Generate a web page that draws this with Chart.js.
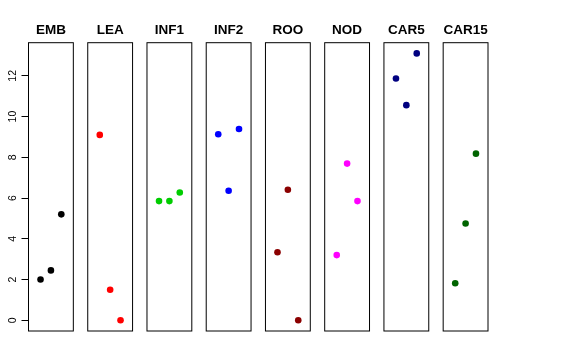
<!DOCTYPE html>
<html>
<head>
<meta charset="utf-8">
<script src="https://cdn.jsdelivr.net/npm/chart.js@4/dist/chart.umd.min.js"></script>
<style>
  html, body { margin: 0; padding: 0; background: #ffffff; }
  #c { display: block; }
</style>
</head>
<body>
<canvas id="c" width="576" height="360"></canvas>
<script>
// ---- data ----
const categories = ['EMB', 'LEA', 'INF1', 'INF2', 'ROO', 'NOD', 'CAR5', 'CAR15'];
const emb   = [2.0, 2.45, 5.2];
const lea   = [9.1, 1.5, 0];
const inf1  = [5.85, 5.85, 6.27];
const inf2  = [9.13, 6.36, 9.39];
const roo   = [3.34, 6.41, 0];
const nod   = [3.2, 7.69, 5.85];
const car5  = [11.87, 10.56, 13.1];
const car15 = [1.82, 4.75, 8.18];
const yTickLabels = [0, 2, 4, 6, 8, 10, 12];
const colors = ['#000000', '#FF0000', '#00CD00', '#0000FF', '#8B0000', '#FF00FF', '#000080', '#006400'];

const seriesList = [emb, lea, inf1, inf2, roo, nod, car5, car15];

// panel geometry in x-units (each panel: local x 1..3, limits 0..4 with 4% extension)
const panelLo = -0.16, panelHi = 4.16;
const panelW = panelHi - panelLo;
const panelGap = 1.389;
const pitch = panelW + panelGap;
const xMax = (categories.length - 1) * pitch + panelW;
const yMin = -0.524, yMax = 13.624;

const datasets = seriesList.map((vals, i) => ({
  label: categories[i],
  data: vals.map((v, j) => ({ x: i * pitch + (j + 1) - panelLo, y: v })),
  backgroundColor: colors[i],
  borderColor: colors[i],
  borderWidth: 0,
  pointRadius: 3.3,
  pointHoverRadius: 3.3
}));

const panelsPlugin = {
  id: 'panels',
  beforeDatasetsDraw(chart) {
    const { ctx, chartArea, scales } = chart;
    const xs = scales.x, ys = scales.y;
    ctx.save();
    ctx.strokeStyle = '#000000';
    ctx.lineWidth = 1;
    categories.forEach((name, i) => {
      const l = xs.getPixelForValue(i * pitch);
      const r = xs.getPixelForValue(i * pitch + panelW);
      ctx.strokeRect(l, chartArea.top, r - l, chartArea.bottom - chartArea.top);
      ctx.fillStyle = '#000000';
      ctx.font = 'bold 13.5px "Liberation Sans", Arial, sans-serif';
      ctx.textAlign = 'center';
      ctx.textBaseline = 'alphabetic';
      ctx.fillText(name, (l + r) / 2, 34);
    });
    // y axis line from first to last tick
    const ax = xs.getPixelForValue(0);
    ctx.beginPath();
    ctx.moveTo(ax, ys.getPixelForValue(yTickLabels[0]));
    ctx.lineTo(ax, ys.getPixelForValue(yTickLabels[yTickLabels.length - 1]));
    ctx.stroke();
    ctx.restore();
  }
};

new Chart(document.getElementById('c'), {
  type: 'scatter',
  data: { datasets },
  options: {
    responsive: false,
    devicePixelRatio: 1,
    animation: false,
    events: [],
    layout: { padding: { left: 0, top: 42.7, right: 88, bottom: 29 } },
    plugins: { legend: { display: false }, tooltip: { enabled: false }, title: { display: false } },
    scales: {
      x: {
        type: 'linear',
        min: 0,
        max: xMax,
        display: false
      },
      y: {
        type: 'linear',
        min: yMin,
        max: yMax,
        afterBuildTicks: (s) => { s.ticks = yTickLabels.map(v => ({ value: v })); },
        afterFit: (s) => { s.width = 28.5; },
        border: { display: false },
        grid: { drawOnChartArea: false, drawTicks: true, tickLength: 7, tickColor: '#000000', lineWidth: 1 },
        ticks: {
          includeBounds: false,
          minRotation: 90,
          maxRotation: 90,
          crossAlign: 'center',
          padding: 3,
          color: '#000000',
          font: { family: '"Liberation Sans", Arial, sans-serif', size: 10.5 }
        }
      }
    }
  },
  plugins: [panelsPlugin]
});
</script>
</body>
</html>
